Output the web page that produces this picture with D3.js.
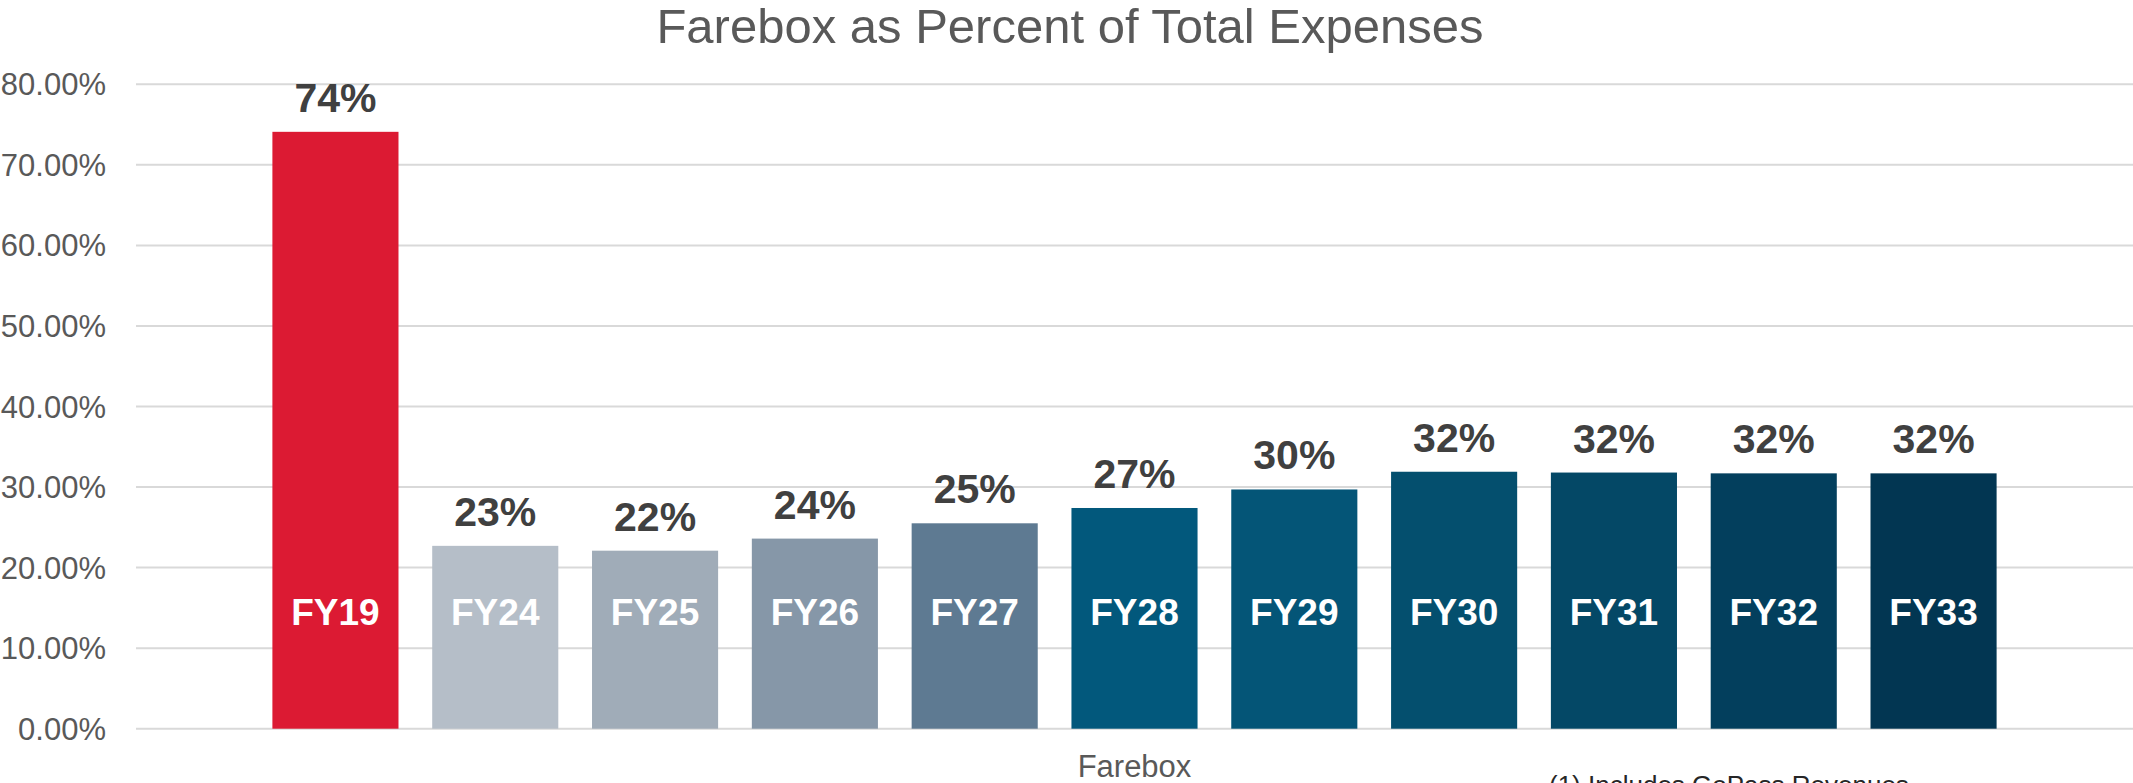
<!DOCTYPE html>
<html>
<head>
<meta charset="utf-8">
<script src="https://cdn.jsdelivr.net/npm/d3@7"></script>
<style>
 html, body { margin: 0; padding: 0; background: #fff; }
 svg { display: block; font-family: "Liberation Sans", Arial, sans-serif; }
</style>
</head>
<body>
<div id="chart"></div>
<script>
(function(){
 // chart data
 const category = ["Farebox"];
 const years = ["FY19", "FY24", "FY25", "FY26", "FY27", "FY28", "FY29", "FY30", "FY31", "FY32", "FY33"];
 const values = [0.741, 0.227, 0.221, 0.236, 0.255, 0.274, 0.297, 0.319, 0.318, 0.317, 0.317];
 const valueLabels = ["74%", "23%", "22%", "24%", "25%", "27%", "30%", "32%", "32%", "32%", "32%"];
 const barColors = ["#DC1A33", "#B5BEC8", "#A0ACB8", "#8697A8", "#5E7A92", "#02587C", "#045577", "#044F6E", "#044866", "#033F5D", "#023652"];
 const yTicks = [0, 0.1, 0.2, 0.3, 0.4, 0.5, 0.6, 0.7, 0.8];

 const width = 2133;
 const height = 783;
 const left = 136;

 const svg = d3.select("#chart")
 .append("svg")
 .attr("width", width)
 .attr("height", height);

 // scales
 const y = d3.scaleLinear().domain([0, 0.8]).range([728.7, 84.3]);
 const x0 = d3.scaleBand().domain(category).range([left, width]).paddingInner(0).paddingOuter(0.068);
 const x1 = d3.scaleBand().domain(years).range([0, x0.bandwidth()]).paddingInner(0.211).paddingOuter(0.1055);

 // gridlines
 svg.append("g")
 .selectAll("line")
 .data(yTicks)
 .enter().append("line")
 .attr("x1", left)
 .attr("x2", width)
 .attr("y1", d => y(d))
 .attr("y2", d => y(d))
 .attr("stroke", "#D9D9D9")
 .attr("stroke-width", 2);

 // y tick labels
 svg.append("g")
 .selectAll("text")
 .data(yTicks)
 .enter().append("text")
 .attr("x", 106)
 .attr("y", d => y(d) + 11)
 .attr("text-anchor", "end")
 .attr("font-size", 31)
 .attr("fill", "#595959")
 .text(d => d3.format(".2%")(d));

 // title
 svg.append("text")
 .attr("x", 1070)
 .attr("y", 43)
 .attr("text-anchor", "middle")
 .attr("font-size", 49)
 .attr("fill", "#595959")
 .text("Farebox as Percent of Total Expenses");

 const group = svg.append("g")
 .attr("transform", `translate(${x0("Farebox")},0)`);

 // bars
 group.selectAll("rect")
 .data(years)
 .enter().append("rect")
 .attr("x", d => x1(d))
 .attr("y", (d, i) => y(values[i]))
 .attr("width", x1.bandwidth())
 .attr("height", (d, i) => y(0) - y(values[i]))
 .attr("fill", (d, i) => barColors[i]);

 // value labels above bars
 group.selectAll("text.val")
 .data(years)
 .enter().append("text")
 .attr("class", "val")
 .attr("x", d => x1(d) + x1.bandwidth() / 2)
 .attr("y", (d, i) => y(values[i]) - 20)
 .attr("text-anchor", "middle")
 .attr("font-size", 41)
 .attr("font-weight", "bold")
 .attr("fill", "#404040")
 .text((d, i) => valueLabels[i]);

 // year labels inside bars
 group.selectAll("text.yr")
 .data(years)
 .enter().append("text")
 .attr("class", "yr")
 .attr("x", d => x1(d) + x1.bandwidth() / 2)
 .attr("y", y(0) - 104)
 .attr("text-anchor", "middle")
 .attr("font-size", 37)
 .attr("font-weight", "bold")
 .attr("fill", "#FFFFFF")
 .text(d => d);

 // category axis label
 svg.append("text")
 .attr("x", x0("Farebox") + x0.bandwidth() / 2)
 .attr("y", 777)
 .attr("text-anchor", "middle")
 .attr("font-size", 31)
 .attr("fill", "#595959")
 .text("Farebox");

 // footnote (cut by the bottom edge, as in the source)
 svg.append("text")
 .attr("x", 1549)
 .attr("y", 794)
 .attr("font-size", 26)
 .attr("fill", "#262626")
 .text("(1) Includes GoPass Revenues");
})();
</script>
</body>
</html>
